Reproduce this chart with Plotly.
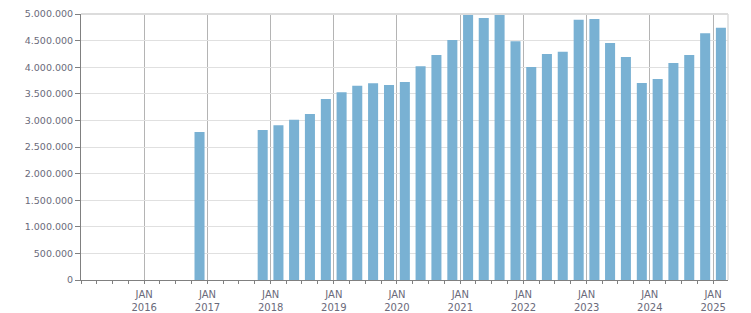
import datetime as dt
import plotly.graph_objects as go

# ---- data ----
quarters = ["2016-Q4", "2017-Q4",
            "2018-Q1", "2018-Q2", "2018-Q3", "2018-Q4",
            "2019-Q1", "2019-Q2", "2019-Q3", "2019-Q4",
            "2020-Q1", "2020-Q2", "2020-Q3", "2020-Q4",
            "2021-Q1", "2021-Q2", "2021-Q3", "2021-Q4",
            "2022-Q1", "2022-Q2", "2022-Q3", "2022-Q4",
            "2023-Q1", "2023-Q2", "2023-Q3", "2023-Q4",
            "2024-Q1", "2024-Q2", "2024-Q3", "2024-Q4",
            "2025-Q1"]
values = [2780000, 2820000,
          2910000, 3010000, 3120000, 3400000,
          3530000, 3650000, 3700000, 3665000,
          3720000, 4020000, 4230000, 4510000,
          5000000, 4925000, 5000000, 4490000,
          4005000, 4250000, 4290000, 4890000,
          4905000, 4455000, 4190000, 3705000,
          3780000, 4080000, 4230000, 4640000,
          4740000]
tick_years = [2016, 2017, 2018, 2019, 2020, 2021, 2022, 2023, 2024, 2025]
tick_labels = ["JAN<br>%d" % y for y in tick_years]
y_ticks = [0, 500000, 1000000, 1500000, 2000000, 2500000,
           3000000, 3500000, 4000000, 4500000, 5000000]


def quarter_mid(q):
    y, qq = q.split("-Q")
    y, qq = int(y), int(qq)
    start = dt.datetime(y, 3 * (qq - 1) + 1, 1)
    end = dt.datetime(y + 1, 1, 1) if qq == 4 else dt.datetime(y, 3 * qq + 1, 1)
    return start + (end - start) / 2


x_dates = [quarter_mid(q) for q in quarters]
tick_dates = [dt.datetime(y, 1, 1) for y in tick_years]

BAR_W_MS = 58 * 86400000
font_col = "#6a6a7a"
axis_col = "#808080"

fig = go.Figure()
fig.add_trace(go.Bar(
    x=x_dates, y=values,
    width=[BAR_W_MS] * len(values),
    marker=dict(color="#79b1d3", line=dict(width=0)),
    hoverinfo="x+y",
))

fig.update_layout(
    width=751, height=313,
    margin=dict(l=81, r=23, t=14, b=33),
    paper_bgcolor="white", plot_bgcolor="white",
    separators=",.",
    showlegend=False,
    font=dict(family="DejaVu Sans", size=9.5, color=font_col),
    xaxis=dict(
        type="date",
        automargin=False,
        range=["2015-01-01", "2025-03-28"],
        tickmode="array", tickvals=tick_dates, ticktext=tick_labels,
        showgrid=True, gridcolor="#b4b4b4", gridwidth=1,
        showline=True, linecolor=axis_col, linewidth=1,
        ticks="outside", ticklen=3, tickcolor=axis_col,
        ticklabelstandoff=2,
        minor=dict(dtick="M3", tick0="2015-01-01", ticks="outside",
                   ticklen=3, tickcolor=axis_col, showgrid=False),
        zeroline=False,
        tickfont=dict(family="DejaVu Sans", size=10, color=font_col),
    ),
    yaxis=dict(
        automargin=False,
        range=[0, 5000000],
        tickmode="array", tickvals=y_ticks,
        tickformat=",d",
        showgrid=True, gridcolor="#e0e0e0", gridwidth=1,
        showline=True, linecolor=axis_col, linewidth=1,
        ticks="outside", ticklen=5, tickcolor=axis_col,
        zeroline=False,
        tickfont=dict(family="DejaVu Sans", size=9.5, color=font_col),
    ),
    shapes=[
        dict(type="line", xref="paper", yref="paper", x0=0, x1=1, y0=1, y1=1,
             line=dict(color="#dcdcdc", width=2), layer="above"),
        dict(type="line", xref="paper", yref="paper", x0=1, x1=1, y0=0, y1=1,
             line=dict(color="#dcdcdc", width=1.5), layer="above"),
    ],
)

fig.write_html("out.html")
